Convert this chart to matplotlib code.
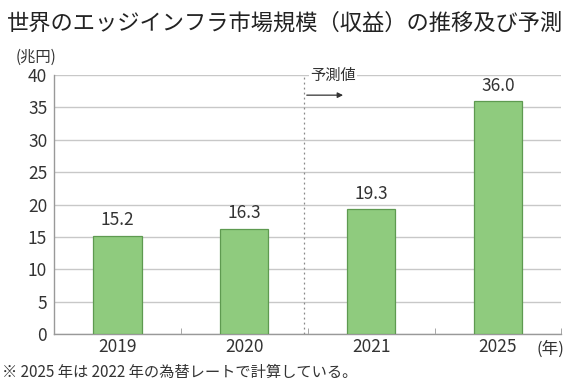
import numpy as np
import matplotlib
matplotlib.use('Agg')
import matplotlib.pyplot as plt

plt.rcParams['font.family'] = ['Noto Sans CJK JP', 'DejaVu Sans']

years = ['2019', '2020', '2021', '2025']
values = [15.2, 16.3, 19.3, 36.0]
yticks = [0, 5, 10, 15, 20, 25, 30, 35, 40]

title = '世界のエッジインフラ市場規模（収益）の推移及び予測'
unit_y = '(兆円)'
unit_x = '(年)'
forecast = '予測値'
note = '※ 2025 年は 2022 年の為替レートで計算している。'

txt = '#333333'
grid_c = '#c8c8c8'

fig = plt.figure(figsize=(5.7, 3.85), dpi=100)
ax = fig.add_axes([0.095, 0.132, 0.89, 0.673])

x = np.arange(len(years))
ax.bar(x, values, width=0.38, color='#8fcb7e', edgecolor='#5e9a50', linewidth=0.9, zorder=3)
for xi, v in zip(x, values):
    ax.text(xi, v + 1.0, f'{v:.1f}', ha='center', va='bottom', fontsize=12.5, color=txt)

ax.set_xlim(-0.5, 3.5)
ax.set_ylim(0, 40)
ax.set_yticks(yticks)
ax.yaxis.grid(True, color=grid_c, linewidth=1.0, zorder=0)
ax.set_axisbelow(True)

ax.set_xticks(x)
ax.set_xticklabels(years)
ax.tick_params(axis='x', length=0, labelsize=12.5, labelcolor=txt, pad=3)
ax.tick_params(axis='y', length=0, labelsize=12.5, labelcolor=txt, pad=5)
ax.set_xticks(np.arange(-0.5, 4.0, 1.0), minor=True)
ax.tick_params(axis='x', which='minor', direction='in', length=4, color='#999999')

for s in ['top', 'right']:
    ax.spines[s].set_visible(False)
for s in ['left', 'bottom']:
    ax.spines[s].set_color('#999999')
    ax.spines[s].set_linewidth(1.0)

# forecast divider
ax.axvline(1.47, color='#888888', linestyle=(0, (1.5, 2.5)), linewidth=0.9, zorder=2)
ax.text(1.52, 40, forecast, ha='left', va='center', fontsize=11, color=txt,
        bbox=dict(facecolor='white', edgecolor='none', pad=1), zorder=4)
ax.annotate('', xy=(1.8, 36.9), xytext=(1.47, 36.9),
            arrowprops=dict(arrowstyle='-|>', color='#333333', lw=0.9, mutation_scale=8), zorder=4)

fig.text(0.5, 0.94, title, ha='center', va='center', fontsize=16, color='#222222')
fig.text(0.028, 0.85, unit_y, ha='left', va='center', fontsize=11, color=txt)
fig.text(0.99, 0.094, unit_x, ha='right', va='center', fontsize=12, color=txt)
fig.text(0.004, 0.032, note, ha='left', va='center', fontsize=11, color=txt)

fig.savefig('out.png', dpi=100)
